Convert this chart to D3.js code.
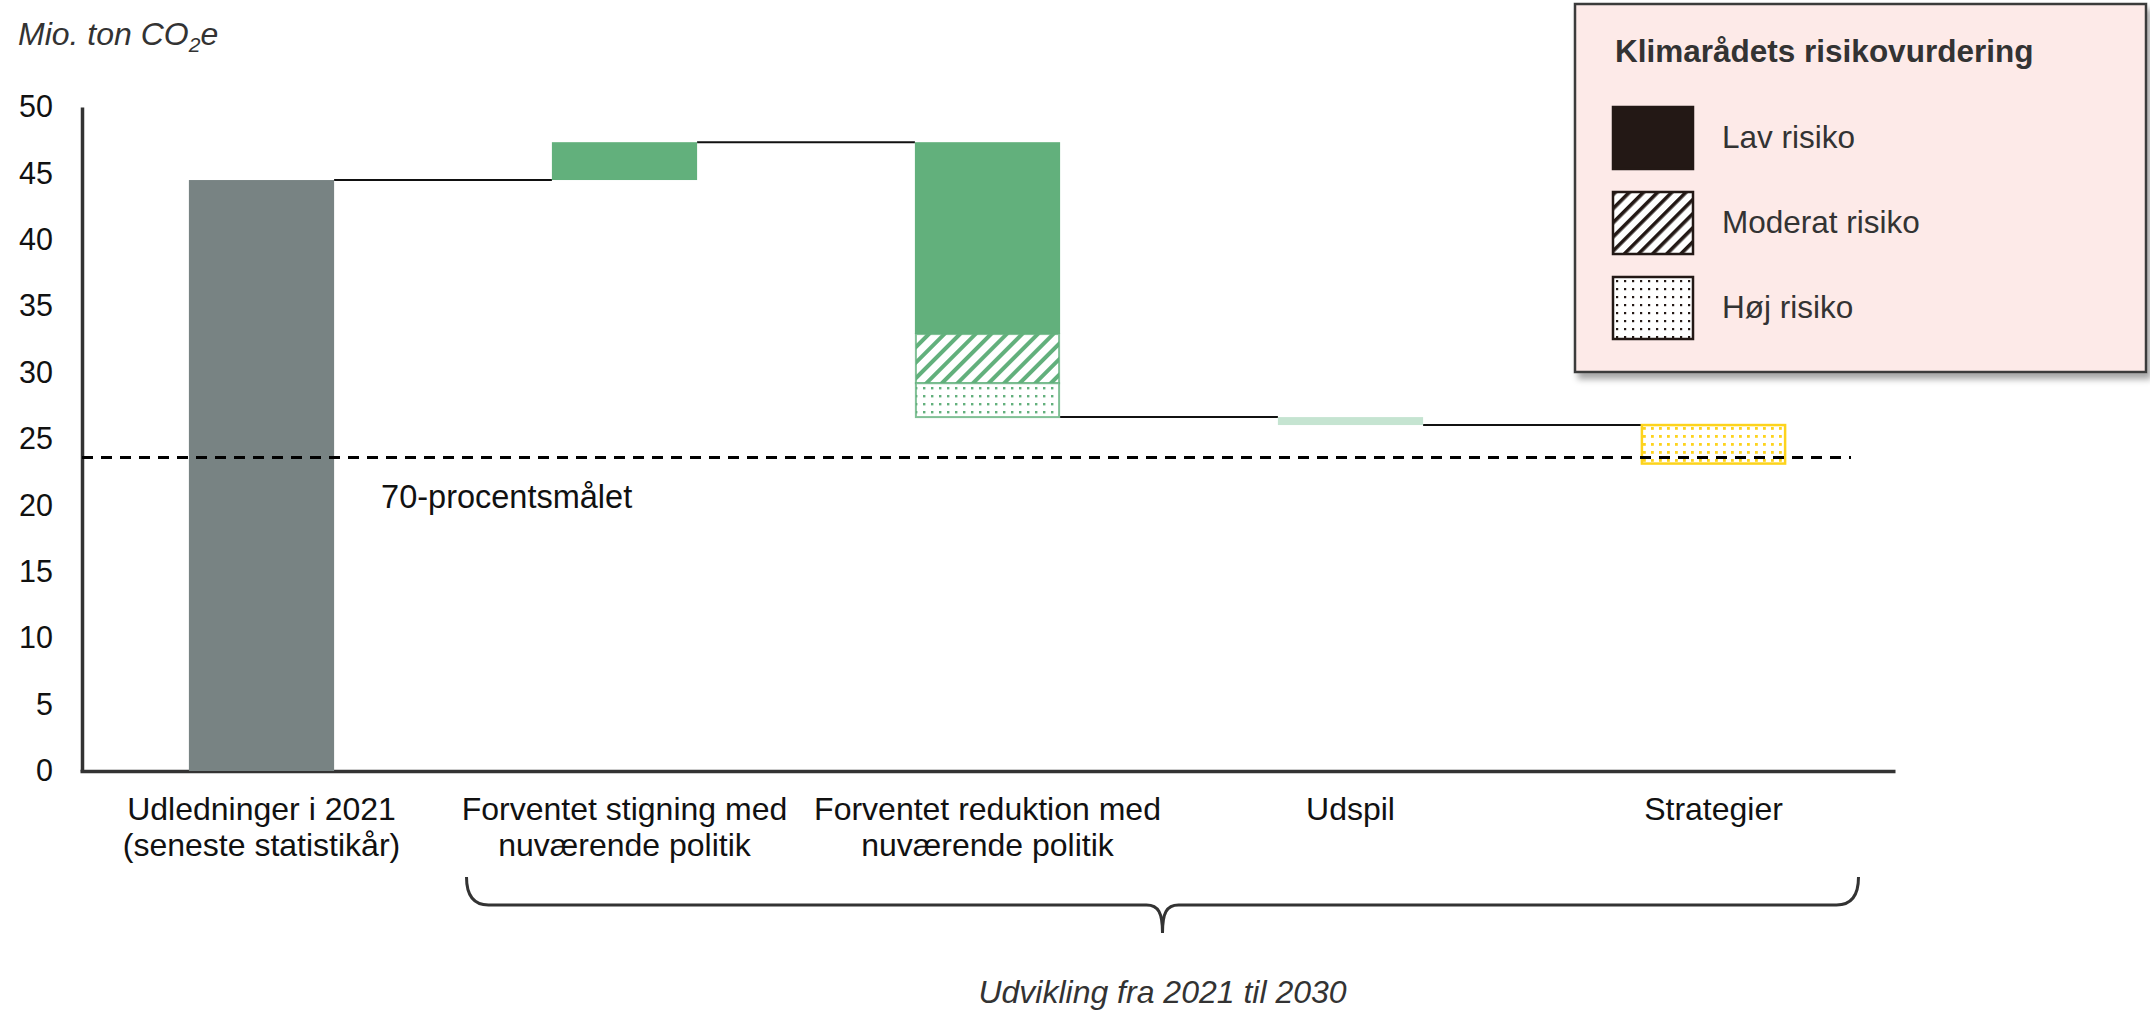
<!DOCTYPE html>
<html>
<head>
<meta charset="utf-8">
<script src="https://cdn.jsdelivr.net/npm/d3@7"></script>
<style>
  body { margin: 0; background: #fff; }
  svg { display: block; font-family: "Liberation Sans", Arial, sans-serif; }
</style>
</head>
<body>
<svg id="chart" width="2150" height="1014"></svg>
<script>
"use strict";

// Categories shown along the x axis (one entry per bar, split into lines)
const categories = ["Udledninger i 2021", "Forventet stigning", "Forventet reduktion", "Udspil", "Strategier"];
const categoryLines = [
    ["Udledninger i 2021", "(seneste statistikår)"],
    ["Forventet stigning med", "nuværende politik"],
    ["Forventet reduktion med", "nuværende politik"],
    ["Udspil"],
    ["Strategier"]
];

// Waterfall steps in mio. ton CO2e, split by the risk rating
const lowRisk      = [44.5, 2.85, -14.45, -0.6, 0];
const moderateRisk = [0,    0,    -3.7,    0,   0];
const highRisk     = [0,    0,    -2.55,   0,  -2.9];
const barColors    = ["#788383", "#62b07c", "#62b07c", "#c5e4d1", "#fdd31c"];

const target = 23.6;            // 70-procentsmålet
const yTicks = [0, 5, 10, 15, 20, 25, 30, 35, 40, 45, 50];

const legendLabels = ["Lav risiko", "Moderat risiko", "Høj risiko"];

const svg = d3.select("#chart");
const defs = svg.append("defs");

const x = d3.scaleBand()
    .domain(categories)
    .range([80, 1895])
    .paddingInner(0.6)
    .paddingOuter(0.3);

const y = d3.scaleLinear()
    .domain([0, 50])
    .range([771, 107]);

/**
 * Hatch (diagonal stripes) and dot patterns, one per colour
 */
function makePatterns(id, color, hatchSize, stripe, dot) {
    const h = defs.append("pattern")
        .attr("id", "hatch-" + id)
        .attr("patternUnits", "userSpaceOnUse")
        .attr("width", hatchSize).attr("height", hatchSize)
        .attr("patternTransform", "rotate(45)");
    h.append("rect").attr("width", hatchSize).attr("height", hatchSize).attr("fill", "#fff");
    h.append("rect").attr("width", stripe).attr("height", hatchSize).attr("fill", color);

    const p = defs.append("pattern")
        .attr("id", "dots-" + id)
        .attr("patternUnits", "userSpaceOnUse")
        .attr("width", 8).attr("height", 8);
    p.append("rect").attr("width", 8).attr("height", 8).attr("fill", "#fff");
    p.append("rect").attr("x", 3).attr("y", 3).attr("width", dot).attr("height", dot).attr("fill", color);
}
barColors.forEach((c, i) => makePatterns(i, c, 11, 4, i === 4 ? 2.8 : 2.4));
makePatterns("legend", "#231815", 10, 3.6, 2.2);

// Drop shadow for the legend box
const shadow = defs.append("filter").attr("id", "shadow")
    .attr("x", "-5%").attr("y", "-5%").attr("width", "115%").attr("height", "120%");
shadow.append("feDropShadow")
    .attr("dx", 4).attr("dy", 6).attr("stdDeviation", 3)
    .attr("flood-color", "#000").attr("flood-opacity", 0.35);

// Build stacked waterfall segments
const segments = [];
const totals = [];
let running = 0;
categories.forEach((c, i) => {
    let start = i === 0 ? 0 : running;
    [["lav", lowRisk[i]], ["moderat", moderateRisk[i]], ["hoej", highRisk[i]]].forEach(([risk, v]) => {
        if (!v) return;
        segments.push({ cat: c, i: i, risk: risk, y0: start, y1: start + v });
        start += v;
    });
    running = start;
    totals.push(running);
});

// Axes
const yAxis = svg.append("g")
    .attr("transform", `translate(${x.range()[0] + 2},0)`)
    .call(d3.axisLeft(y).tickValues(yTicks).tickSize(0).tickPadding(29));
yAxis.select(".domain").attr("stroke", "#333").attr("stroke-width", 3.5);
yAxis.selectAll("text").attr("font-size", 30.5).attr("fill", "#111")
    .attr("font-family", "Liberation Sans, Arial, sans-serif");

const xAxis = svg.append("g")
    .attr("transform", `translate(0,${y(0)})`)
    .call(d3.axisBottom(x).tickSize(0).tickSizeOuter(0).tickFormat(""));
xAxis.select(".domain").attr("stroke", "#333").attr("stroke-width", 3.5);

// Category labels (multi-line)
const labels = svg.append("g").selectAll("text")
    .data(categories)
    .enter().append("text")
        .attr("text-anchor", "middle")
        .attr("font-size", 32)
        .attr("fill", "#111")
        .attr("transform", d => `translate(${x(d) + x.bandwidth() / 2},${y(0) + 49})`);
labels.selectAll("tspan")
    .data((d, i) => categoryLines[i])
    .enter().append("tspan")
        .attr("x", 0)
        .attr("dy", (d, j) => j === 0 ? 0 : 36)
        .text(d => d);

// Connector lines between bars
svg.append("g").selectAll("line")
    .data(totals.slice(0, -1))
    .enter().append("line")
        .attr("x1", (d, i) => x(categories[i]) + x.bandwidth())
        .attr("x2", (d, i) => x(categories[i + 1]))
        .attr("y1", d => y(d))
        .attr("y2", d => y(d))
        .attr("stroke", "#111")
        .attr("stroke-width", 2);

// Bars
svg.append("g").selectAll("rect")
    .data(segments)
    .enter().append("rect")
        .attr("x", d => x(d.cat) + (d.risk === "lav" ? 0 : 1))
        .attr("width", d => x.bandwidth() - (d.risk === "lav" ? 0 : 2))
        .attr("y", d => y(Math.max(d.y0, d.y1)))
        .attr("height", d => Math.abs(y(d.y0) - y(d.y1)))
        .attr("fill", d => d.risk === "lav" ? barColors[d.i]
            : d.risk === "moderat" ? `url(#hatch-${d.i})` : `url(#dots-${d.i})`)
        .attr("stroke", d => d.risk === "lav" ? "none" : barColors[d.i])
        .attr("stroke-opacity", d => d.i === 4 ? 1 : 0.8)
        .attr("stroke-width", d => d.i === 4 ? 2.5 : 2);

// 70 percent target
svg.append("line")
    .attr("x1", x.range()[0] + 2)
    .attr("x2", 1851)
    .attr("y1", y(target))
    .attr("y2", y(target))
    .attr("stroke", "#000")
    .attr("stroke-width", 3)
    .attr("stroke-dasharray", "11,8");

svg.append("text")
    .attr("x", x(categories[0]) + x.bandwidth() + 47)
    .attr("y", y(target) + 50)
    .attr("font-size", 32.5)
    .attr("fill", "#111")
    .text("70-procentsmålet");

// Y axis title
const yTitle = svg.append("text")
    .attr("x", 18).attr("y", 45)
    .attr("font-size", 32)
    .attr("font-style", "italic")
    .attr("fill", "#333");
yTitle.append("tspan").text("Mio. ton CO");
yTitle.append("tspan").attr("font-size", 21).attr("dy", 7).text("2");
yTitle.append("tspan").attr("dy", -7).text("e");

// Brace spanning the 2021-2030 development
const braceLeft = x(categories[1]) + x.bandwidth() / 2 - 158;
const braceRight = x(categories[4]) + x.bandwidth() / 2 + 145;
const braceMid = (braceLeft + braceRight) / 2;
const bTop = 877, bLine = 905, bTip = 933;
const brace = d3.path();
brace.moveTo(braceLeft, bTop);
brace.quadraticCurveTo(braceLeft, bLine, braceLeft + 22, bLine);
brace.lineTo(braceMid - 16, bLine);
brace.bezierCurveTo(braceMid - 4, bLine, braceMid, bLine + 8, braceMid, bTip);
brace.bezierCurveTo(braceMid, bLine + 8, braceMid + 4, bLine, braceMid + 16, bLine);
brace.lineTo(braceRight - 22, bLine);
brace.quadraticCurveTo(braceRight, bLine, braceRight, bTop);
svg.append("path")
    .attr("d", brace.toString())
    .attr("fill", "none")
    .attr("stroke", "#333")
    .attr("stroke-width", 3);

svg.append("text")
    .attr("x", braceMid)
    .attr("y", 1003)
    .attr("text-anchor", "middle")
    .attr("font-size", 32)
    .attr("font-style", "italic")
    .attr("fill", "#333")
    .text("Udvikling fra 2021 til 2030");

// Legend
const legend = svg.append("g").attr("transform", "translate(1575,4)");
legend.append("rect")
    .attr("width", 571).attr("height", 368)
    .attr("fill", "#fdeae8")
    .attr("stroke", "#3a3a3a")
    .attr("stroke-width", 2.5)
    .attr("filter", "url(#shadow)");
legend.append("text")
    .attr("x", 40).attr("y", 58)
    .attr("font-size", 31.5)
    .attr("font-weight", "bold")
    .attr("fill", "#333")
    .text("Klimarådets risikovurdering");

const legendFills = ["#231815", "url(#hatch-legend)", "url(#dots-legend)"];
const items = legend.selectAll("g.item")
    .data(legendLabels)
    .enter().append("g")
        .attr("class", "item")
        .attr("transform", (d, i) => `translate(38,${103 + i * 85})`);
items.append("rect")
    .attr("width", 80).attr("height", 62)
    .attr("fill", (d, i) => legendFills[i])
    .attr("stroke", "#231815")
    .attr("stroke-width", 2.5);
items.append("text")
    .attr("x", 109).attr("y", 41)
    .attr("font-size", 31.5)
    .attr("fill", "#333")
    .text(d => d);
</script>
</body>
</html>
